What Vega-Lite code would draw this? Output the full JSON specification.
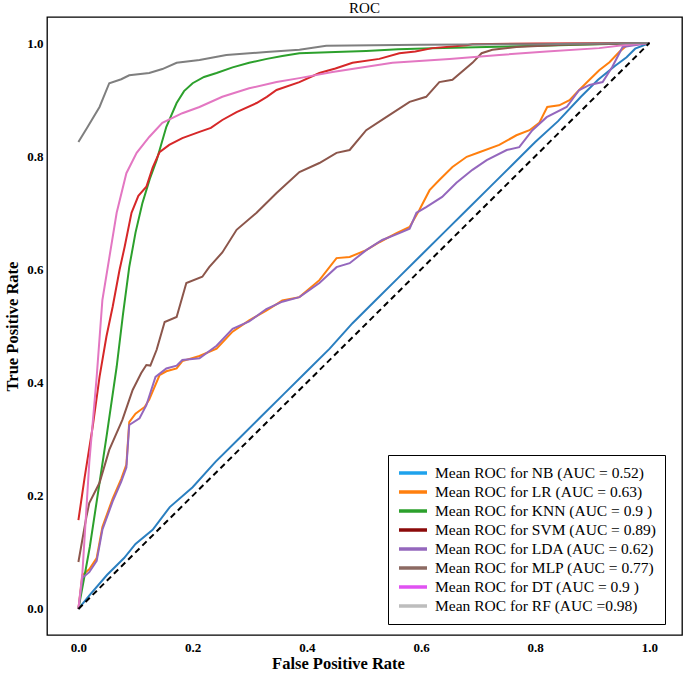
{
  "$schema": "https://vega.github.io/schema/vega-lite/v6.json",
  "width": 635,
  "height": 618,
  "autosize": {"type": "none"},
  "padding": {"left": 47, "top": 17, "right": 3, "bottom": 38},
  "background": "white",
  "title": {"text": "ROC", "font": "Liberation Serif", "fontSize": 15, "fontWeight": "normal", "color": "black", "offset": 1},
  "config": {
    "view": {"stroke": "black", "strokeWidth": 1.3},
    "axis": {
      "domain": false, "grid": false, "ticks": false,
      "labelFont": "Liberation Serif", "labelFontSize": 13, "labelFontWeight": "bold", "labelColor": "black",
      "titleFont": "Liberation Serif", "titleFontSize": 16.5, "titleFontWeight": "bold", "titleColor": "black"
    }
  },
  "datasets": {
    "roc": [
      {"m": "Mean ROC for NB (AUC = 0.52)", "x": 0, "y": 0},
      {"m": "Mean ROC for NB (AUC = 0.52)", "x": 0.02, "y": 0.025},
      {"m": "Mean ROC for NB (AUC = 0.52)", "x": 0.05, "y": 0.06},
      {"m": "Mean ROC for NB (AUC = 0.52)", "x": 0.08, "y": 0.09},
      {"m": "Mean ROC for NB (AUC = 0.52)", "x": 0.1, "y": 0.115},
      {"m": "Mean ROC for NB (AUC = 0.52)", "x": 0.13, "y": 0.14},
      {"m": "Mean ROC for NB (AUC = 0.52)", "x": 0.16, "y": 0.18},
      {"m": "Mean ROC for NB (AUC = 0.52)", "x": 0.2, "y": 0.215},
      {"m": "Mean ROC for NB (AUC = 0.52)", "x": 0.24, "y": 0.26},
      {"m": "Mean ROC for NB (AUC = 0.52)", "x": 0.28, "y": 0.3},
      {"m": "Mean ROC for NB (AUC = 0.52)", "x": 0.32, "y": 0.34},
      {"m": "Mean ROC for NB (AUC = 0.52)", "x": 0.36, "y": 0.38},
      {"m": "Mean ROC for NB (AUC = 0.52)", "x": 0.4, "y": 0.42},
      {"m": "Mean ROC for NB (AUC = 0.52)", "x": 0.44, "y": 0.46},
      {"m": "Mean ROC for NB (AUC = 0.52)", "x": 0.48, "y": 0.505},
      {"m": "Mean ROC for NB (AUC = 0.52)", "x": 0.52, "y": 0.545},
      {"m": "Mean ROC for NB (AUC = 0.52)", "x": 0.56, "y": 0.585},
      {"m": "Mean ROC for NB (AUC = 0.52)", "x": 0.6, "y": 0.625},
      {"m": "Mean ROC for NB (AUC = 0.52)", "x": 0.64, "y": 0.665},
      {"m": "Mean ROC for NB (AUC = 0.52)", "x": 0.68, "y": 0.705},
      {"m": "Mean ROC for NB (AUC = 0.52)", "x": 0.72, "y": 0.745},
      {"m": "Mean ROC for NB (AUC = 0.52)", "x": 0.76, "y": 0.785},
      {"m": "Mean ROC for NB (AUC = 0.52)", "x": 0.8, "y": 0.825},
      {"m": "Mean ROC for NB (AUC = 0.52)", "x": 0.84, "y": 0.862},
      {"m": "Mean ROC for NB (AUC = 0.52)", "x": 0.88, "y": 0.905},
      {"m": "Mean ROC for NB (AUC = 0.52)", "x": 0.91, "y": 0.935},
      {"m": "Mean ROC for NB (AUC = 0.52)", "x": 0.94, "y": 0.96},
      {"m": "Mean ROC for NB (AUC = 0.52)", "x": 0.96, "y": 0.975},
      {"m": "Mean ROC for NB (AUC = 0.52)", "x": 0.975, "y": 0.99},
      {"m": "Mean ROC for NB (AUC = 0.52)", "x": 1, "y": 1},

      {"m": "Mean ROC for LR (AUC = 0.63)", "x": 0, "y": 0},
      {"m": "Mean ROC for LR (AUC = 0.63)", "x": 0.007, "y": 0.06},
      {"m": "Mean ROC for LR (AUC = 0.63)", "x": 0.019, "y": 0.07},
      {"m": "Mean ROC for LR (AUC = 0.63)", "x": 0.032, "y": 0.09},
      {"m": "Mean ROC for LR (AUC = 0.63)", "x": 0.042, "y": 0.145},
      {"m": "Mean ROC for LR (AUC = 0.63)", "x": 0.06, "y": 0.195},
      {"m": "Mean ROC for LR (AUC = 0.63)", "x": 0.075, "y": 0.23},
      {"m": "Mean ROC for LR (AUC = 0.63)", "x": 0.084, "y": 0.255},
      {"m": "Mean ROC for LR (AUC = 0.63)", "x": 0.089, "y": 0.33},
      {"m": "Mean ROC for LR (AUC = 0.63)", "x": 0.1, "y": 0.345},
      {"m": "Mean ROC for LR (AUC = 0.63)", "x": 0.116, "y": 0.357},
      {"m": "Mean ROC for LR (AUC = 0.63)", "x": 0.124, "y": 0.37},
      {"m": "Mean ROC for LR (AUC = 0.63)", "x": 0.142, "y": 0.413},
      {"m": "Mean ROC for LR (AUC = 0.63)", "x": 0.154, "y": 0.42},
      {"m": "Mean ROC for LR (AUC = 0.63)", "x": 0.172, "y": 0.425},
      {"m": "Mean ROC for LR (AUC = 0.63)", "x": 0.182, "y": 0.438},
      {"m": "Mean ROC for LR (AUC = 0.63)", "x": 0.212, "y": 0.447},
      {"m": "Mean ROC for LR (AUC = 0.63)", "x": 0.242, "y": 0.46},
      {"m": "Mean ROC for LR (AUC = 0.63)", "x": 0.27, "y": 0.49},
      {"m": "Mean ROC for LR (AUC = 0.63)", "x": 0.299, "y": 0.51},
      {"m": "Mean ROC for LR (AUC = 0.63)", "x": 0.329, "y": 0.527},
      {"m": "Mean ROC for LR (AUC = 0.63)", "x": 0.357, "y": 0.545},
      {"m": "Mean ROC for LR (AUC = 0.63)", "x": 0.387, "y": 0.551},
      {"m": "Mean ROC for LR (AUC = 0.63)", "x": 0.422, "y": 0.581},
      {"m": "Mean ROC for LR (AUC = 0.63)", "x": 0.452, "y": 0.62},
      {"m": "Mean ROC for LR (AUC = 0.63)", "x": 0.475, "y": 0.622},
      {"m": "Mean ROC for LR (AUC = 0.63)", "x": 0.504, "y": 0.634},
      {"m": "Mean ROC for LR (AUC = 0.63)", "x": 0.527, "y": 0.648},
      {"m": "Mean ROC for LR (AUC = 0.63)", "x": 0.557, "y": 0.664},
      {"m": "Mean ROC for LR (AUC = 0.63)", "x": 0.58, "y": 0.675},
      {"m": "Mean ROC for LR (AUC = 0.63)", "x": 0.597, "y": 0.705},
      {"m": "Mean ROC for LR (AUC = 0.63)", "x": 0.615, "y": 0.74},
      {"m": "Mean ROC for LR (AUC = 0.63)", "x": 0.632, "y": 0.758},
      {"m": "Mean ROC for LR (AUC = 0.63)", "x": 0.655, "y": 0.781},
      {"m": "Mean ROC for LR (AUC = 0.63)", "x": 0.68, "y": 0.799},
      {"m": "Mean ROC for LR (AUC = 0.63)", "x": 0.702, "y": 0.807},
      {"m": "Mean ROC for LR (AUC = 0.63)", "x": 0.737, "y": 0.82},
      {"m": "Mean ROC for LR (AUC = 0.63)", "x": 0.767, "y": 0.837},
      {"m": "Mean ROC for LR (AUC = 0.63)", "x": 0.79, "y": 0.846},
      {"m": "Mean ROC for LR (AUC = 0.63)", "x": 0.807, "y": 0.859},
      {"m": "Mean ROC for LR (AUC = 0.63)", "x": 0.821, "y": 0.887},
      {"m": "Mean ROC for LR (AUC = 0.63)", "x": 0.842, "y": 0.89},
      {"m": "Mean ROC for LR (AUC = 0.63)", "x": 0.86, "y": 0.899},
      {"m": "Mean ROC for LR (AUC = 0.63)", "x": 0.877, "y": 0.917},
      {"m": "Mean ROC for LR (AUC = 0.63)", "x": 0.895, "y": 0.935},
      {"m": "Mean ROC for LR (AUC = 0.63)", "x": 0.912, "y": 0.952},
      {"m": "Mean ROC for LR (AUC = 0.63)", "x": 0.93, "y": 0.966},
      {"m": "Mean ROC for LR (AUC = 0.63)", "x": 0.947, "y": 0.984},
      {"m": "Mean ROC for LR (AUC = 0.63)", "x": 0.961, "y": 0.996},
      {"m": "Mean ROC for LR (AUC = 0.63)", "x": 1, "y": 1},

      {"m": "Mean ROC for KNN (AUC =  0.9 )", "x": 0, "y": 0},
      {"m": "Mean ROC for KNN (AUC =  0.9 )", "x": 0.011, "y": 0.06},
      {"m": "Mean ROC for KNN (AUC =  0.9 )", "x": 0.02, "y": 0.11},
      {"m": "Mean ROC for KNN (AUC =  0.9 )", "x": 0.037, "y": 0.223},
      {"m": "Mean ROC for KNN (AUC =  0.9 )", "x": 0.05, "y": 0.31},
      {"m": "Mean ROC for KNN (AUC =  0.9 )", "x": 0.067, "y": 0.428},
      {"m": "Mean ROC for KNN (AUC =  0.9 )", "x": 0.078, "y": 0.52},
      {"m": "Mean ROC for KNN (AUC =  0.9 )", "x": 0.089, "y": 0.604},
      {"m": "Mean ROC for KNN (AUC =  0.9 )", "x": 0.1, "y": 0.665},
      {"m": "Mean ROC for KNN (AUC =  0.9 )", "x": 0.112, "y": 0.717},
      {"m": "Mean ROC for KNN (AUC =  0.9 )", "x": 0.125, "y": 0.76},
      {"m": "Mean ROC for KNN (AUC =  0.9 )", "x": 0.137, "y": 0.793},
      {"m": "Mean ROC for KNN (AUC =  0.9 )", "x": 0.154, "y": 0.852},
      {"m": "Mean ROC for KNN (AUC =  0.9 )", "x": 0.172, "y": 0.894},
      {"m": "Mean ROC for KNN (AUC =  0.9 )", "x": 0.185, "y": 0.915},
      {"m": "Mean ROC for KNN (AUC =  0.9 )", "x": 0.2, "y": 0.929},
      {"m": "Mean ROC for KNN (AUC =  0.9 )", "x": 0.22, "y": 0.94},
      {"m": "Mean ROC for KNN (AUC =  0.9 )", "x": 0.242, "y": 0.947},
      {"m": "Mean ROC for KNN (AUC =  0.9 )", "x": 0.27, "y": 0.957},
      {"m": "Mean ROC for KNN (AUC =  0.9 )", "x": 0.299, "y": 0.965},
      {"m": "Mean ROC for KNN (AUC =  0.9 )", "x": 0.33, "y": 0.972},
      {"m": "Mean ROC for KNN (AUC =  0.9 )", "x": 0.357, "y": 0.977},
      {"m": "Mean ROC for KNN (AUC =  0.9 )", "x": 0.387, "y": 0.982},
      {"m": "Mean ROC for KNN (AUC =  0.9 )", "x": 0.45, "y": 0.984},
      {"m": "Mean ROC for KNN (AUC =  0.9 )", "x": 0.504, "y": 0.986},
      {"m": "Mean ROC for KNN (AUC =  0.9 )", "x": 0.56, "y": 0.989},
      {"m": "Mean ROC for KNN (AUC =  0.9 )", "x": 0.62, "y": 0.991},
      {"m": "Mean ROC for KNN (AUC =  0.9 )", "x": 0.715, "y": 0.993},
      {"m": "Mean ROC for KNN (AUC =  0.9 )", "x": 0.842, "y": 0.996},
      {"m": "Mean ROC for KNN (AUC =  0.9 )", "x": 1, "y": 1},

      {"m": "Mean ROC for SVM (AUC = 0.89)", "x": 0, "y": 0.157},
      {"m": "Mean ROC for SVM (AUC = 0.89)", "x": 0.011, "y": 0.233},
      {"m": "Mean ROC for SVM (AUC = 0.89)", "x": 0.025, "y": 0.322},
      {"m": "Mean ROC for SVM (AUC = 0.89)", "x": 0.037, "y": 0.41},
      {"m": "Mean ROC for SVM (AUC = 0.89)", "x": 0.049, "y": 0.481},
      {"m": "Mean ROC for SVM (AUC = 0.89)", "x": 0.06, "y": 0.534},
      {"m": "Mean ROC for SVM (AUC = 0.89)", "x": 0.072, "y": 0.599},
      {"m": "Mean ROC for SVM (AUC = 0.89)", "x": 0.081, "y": 0.64},
      {"m": "Mean ROC for SVM (AUC = 0.89)", "x": 0.093, "y": 0.7},
      {"m": "Mean ROC for SVM (AUC = 0.89)", "x": 0.105, "y": 0.73},
      {"m": "Mean ROC for SVM (AUC = 0.89)", "x": 0.119, "y": 0.746},
      {"m": "Mean ROC for SVM (AUC = 0.89)", "x": 0.13, "y": 0.78},
      {"m": "Mean ROC for SVM (AUC = 0.89)", "x": 0.142, "y": 0.807},
      {"m": "Mean ROC for SVM (AUC = 0.89)", "x": 0.159, "y": 0.82},
      {"m": "Mean ROC for SVM (AUC = 0.89)", "x": 0.182, "y": 0.832},
      {"m": "Mean ROC for SVM (AUC = 0.89)", "x": 0.212, "y": 0.843},
      {"m": "Mean ROC for SVM (AUC = 0.89)", "x": 0.232, "y": 0.85},
      {"m": "Mean ROC for SVM (AUC = 0.89)", "x": 0.252, "y": 0.864},
      {"m": "Mean ROC for SVM (AUC = 0.89)", "x": 0.277, "y": 0.878},
      {"m": "Mean ROC for SVM (AUC = 0.89)", "x": 0.312, "y": 0.894},
      {"m": "Mean ROC for SVM (AUC = 0.89)", "x": 0.33, "y": 0.905},
      {"m": "Mean ROC for SVM (AUC = 0.89)", "x": 0.347, "y": 0.917},
      {"m": "Mean ROC for SVM (AUC = 0.89)", "x": 0.387, "y": 0.931},
      {"m": "Mean ROC for SVM (AUC = 0.89)", "x": 0.422, "y": 0.947},
      {"m": "Mean ROC for SVM (AUC = 0.89)", "x": 0.45, "y": 0.955},
      {"m": "Mean ROC for SVM (AUC = 0.89)", "x": 0.48, "y": 0.965},
      {"m": "Mean ROC for SVM (AUC = 0.89)", "x": 0.527, "y": 0.972},
      {"m": "Mean ROC for SVM (AUC = 0.89)", "x": 0.562, "y": 0.982},
      {"m": "Mean ROC for SVM (AUC = 0.89)", "x": 0.59, "y": 0.985},
      {"m": "Mean ROC for SVM (AUC = 0.89)", "x": 0.62, "y": 0.991},
      {"m": "Mean ROC for SVM (AUC = 0.89)", "x": 0.68, "y": 0.996},
      {"m": "Mean ROC for SVM (AUC = 0.89)", "x": 0.69, "y": 0.998},
      {"m": "Mean ROC for SVM (AUC = 0.89)", "x": 0.8, "y": 0.999},
      {"m": "Mean ROC for SVM (AUC = 0.89)", "x": 1, "y": 1},

      {"m": "Mean ROC for LDA (AUC = 0.62)", "x": 0, "y": 0},
      {"m": "Mean ROC for LDA (AUC = 0.62)", "x": 0.007, "y": 0.055},
      {"m": "Mean ROC for LDA (AUC = 0.62)", "x": 0.019, "y": 0.065},
      {"m": "Mean ROC for LDA (AUC = 0.62)", "x": 0.032, "y": 0.085},
      {"m": "Mean ROC for LDA (AUC = 0.62)", "x": 0.042, "y": 0.14},
      {"m": "Mean ROC for LDA (AUC = 0.62)", "x": 0.06, "y": 0.19},
      {"m": "Mean ROC for LDA (AUC = 0.62)", "x": 0.075, "y": 0.225},
      {"m": "Mean ROC for LDA (AUC = 0.62)", "x": 0.084, "y": 0.25},
      {"m": "Mean ROC for LDA (AUC = 0.62)", "x": 0.089, "y": 0.325},
      {"m": "Mean ROC for LDA (AUC = 0.62)", "x": 0.107, "y": 0.337},
      {"m": "Mean ROC for LDA (AUC = 0.62)", "x": 0.119, "y": 0.36},
      {"m": "Mean ROC for LDA (AUC = 0.62)", "x": 0.135, "y": 0.41},
      {"m": "Mean ROC for LDA (AUC = 0.62)", "x": 0.154, "y": 0.425},
      {"m": "Mean ROC for LDA (AUC = 0.62)", "x": 0.172, "y": 0.43},
      {"m": "Mean ROC for LDA (AUC = 0.62)", "x": 0.182, "y": 0.44},
      {"m": "Mean ROC for LDA (AUC = 0.62)", "x": 0.212, "y": 0.443},
      {"m": "Mean ROC for LDA (AUC = 0.62)", "x": 0.242, "y": 0.465},
      {"m": "Mean ROC for LDA (AUC = 0.62)", "x": 0.27, "y": 0.495},
      {"m": "Mean ROC for LDA (AUC = 0.62)", "x": 0.299, "y": 0.508},
      {"m": "Mean ROC for LDA (AUC = 0.62)", "x": 0.329, "y": 0.53},
      {"m": "Mean ROC for LDA (AUC = 0.62)", "x": 0.357, "y": 0.543},
      {"m": "Mean ROC for LDA (AUC = 0.62)", "x": 0.387, "y": 0.551},
      {"m": "Mean ROC for LDA (AUC = 0.62)", "x": 0.422, "y": 0.576},
      {"m": "Mean ROC for LDA (AUC = 0.62)", "x": 0.452, "y": 0.604},
      {"m": "Mean ROC for LDA (AUC = 0.62)", "x": 0.475, "y": 0.611},
      {"m": "Mean ROC for LDA (AUC = 0.62)", "x": 0.504, "y": 0.634},
      {"m": "Mean ROC for LDA (AUC = 0.62)", "x": 0.532, "y": 0.652},
      {"m": "Mean ROC for LDA (AUC = 0.62)", "x": 0.562, "y": 0.664},
      {"m": "Mean ROC for LDA (AUC = 0.62)", "x": 0.58, "y": 0.672},
      {"m": "Mean ROC for LDA (AUC = 0.62)", "x": 0.592, "y": 0.7},
      {"m": "Mean ROC for LDA (AUC = 0.62)", "x": 0.609, "y": 0.71},
      {"m": "Mean ROC for LDA (AUC = 0.62)", "x": 0.637, "y": 0.728},
      {"m": "Mean ROC for LDA (AUC = 0.62)", "x": 0.662, "y": 0.753},
      {"m": "Mean ROC for LDA (AUC = 0.62)", "x": 0.69, "y": 0.776},
      {"m": "Mean ROC for LDA (AUC = 0.62)", "x": 0.715, "y": 0.793},
      {"m": "Mean ROC for LDA (AUC = 0.62)", "x": 0.75, "y": 0.811},
      {"m": "Mean ROC for LDA (AUC = 0.62)", "x": 0.772, "y": 0.816},
      {"m": "Mean ROC for LDA (AUC = 0.62)", "x": 0.795, "y": 0.846},
      {"m": "Mean ROC for LDA (AUC = 0.62)", "x": 0.82, "y": 0.869},
      {"m": "Mean ROC for LDA (AUC = 0.62)", "x": 0.855, "y": 0.887},
      {"m": "Mean ROC for LDA (AUC = 0.62)", "x": 0.877, "y": 0.917},
      {"m": "Mean ROC for LDA (AUC = 0.62)", "x": 0.895, "y": 0.926},
      {"m": "Mean ROC for LDA (AUC = 0.62)", "x": 0.918, "y": 0.931},
      {"m": "Mean ROC for LDA (AUC = 0.62)", "x": 0.935, "y": 0.958},
      {"m": "Mean ROC for LDA (AUC = 0.62)", "x": 0.953, "y": 0.993},
      {"m": "Mean ROC for LDA (AUC = 0.62)", "x": 1, "y": 1},

      {"m": "Mean ROC for MLP (AUC = 0.77)", "x": 0, "y": 0.083},
      {"m": "Mean ROC for MLP (AUC = 0.77)", "x": 0.014, "y": 0.163},
      {"m": "Mean ROC for MLP (AUC = 0.77)", "x": 0.019, "y": 0.187},
      {"m": "Mean ROC for MLP (AUC = 0.77)", "x": 0.037, "y": 0.223},
      {"m": "Mean ROC for MLP (AUC = 0.77)", "x": 0.054, "y": 0.281},
      {"m": "Mean ROC for MLP (AUC = 0.77)", "x": 0.077, "y": 0.334},
      {"m": "Mean ROC for MLP (AUC = 0.77)", "x": 0.095, "y": 0.387},
      {"m": "Mean ROC for MLP (AUC = 0.77)", "x": 0.11, "y": 0.417},
      {"m": "Mean ROC for MLP (AUC = 0.77)", "x": 0.119, "y": 0.431},
      {"m": "Mean ROC for MLP (AUC = 0.77)", "x": 0.126, "y": 0.43},
      {"m": "Mean ROC for MLP (AUC = 0.77)", "x": 0.137, "y": 0.458},
      {"m": "Mean ROC for MLP (AUC = 0.77)", "x": 0.151, "y": 0.507},
      {"m": "Mean ROC for MLP (AUC = 0.77)", "x": 0.172, "y": 0.516},
      {"m": "Mean ROC for MLP (AUC = 0.77)", "x": 0.189, "y": 0.576},
      {"m": "Mean ROC for MLP (AUC = 0.77)", "x": 0.217, "y": 0.587},
      {"m": "Mean ROC for MLP (AUC = 0.77)", "x": 0.229, "y": 0.604},
      {"m": "Mean ROC for MLP (AUC = 0.77)", "x": 0.252, "y": 0.63},
      {"m": "Mean ROC for MLP (AUC = 0.77)", "x": 0.277, "y": 0.67},
      {"m": "Mean ROC for MLP (AUC = 0.77)", "x": 0.312, "y": 0.7},
      {"m": "Mean ROC for MLP (AUC = 0.77)", "x": 0.347, "y": 0.735},
      {"m": "Mean ROC for MLP (AUC = 0.77)", "x": 0.387, "y": 0.772},
      {"m": "Mean ROC for MLP (AUC = 0.77)", "x": 0.422, "y": 0.788},
      {"m": "Mean ROC for MLP (AUC = 0.77)", "x": 0.452, "y": 0.806},
      {"m": "Mean ROC for MLP (AUC = 0.77)", "x": 0.475, "y": 0.811},
      {"m": "Mean ROC for MLP (AUC = 0.77)", "x": 0.504, "y": 0.846},
      {"m": "Mean ROC for MLP (AUC = 0.77)", "x": 0.539, "y": 0.869},
      {"m": "Mean ROC for MLP (AUC = 0.77)", "x": 0.58, "y": 0.896},
      {"m": "Mean ROC for MLP (AUC = 0.77)", "x": 0.609, "y": 0.905},
      {"m": "Mean ROC for MLP (AUC = 0.77)", "x": 0.632, "y": 0.931},
      {"m": "Mean ROC for MLP (AUC = 0.77)", "x": 0.655, "y": 0.935},
      {"m": "Mean ROC for MLP (AUC = 0.77)", "x": 0.69, "y": 0.965},
      {"m": "Mean ROC for MLP (AUC = 0.77)", "x": 0.706, "y": 0.982},
      {"m": "Mean ROC for MLP (AUC = 0.77)", "x": 0.725, "y": 0.988},
      {"m": "Mean ROC for MLP (AUC = 0.77)", "x": 0.767, "y": 0.993},
      {"m": "Mean ROC for MLP (AUC = 0.77)", "x": 0.85, "y": 0.997},
      {"m": "Mean ROC for MLP (AUC = 0.77)", "x": 1, "y": 1},

      {"m": "Mean ROC for DT (AUC =  0.9 )", "x": 0, "y": 0},
      {"m": "Mean ROC for DT (AUC =  0.9 )", "x": 0.007, "y": 0.064},
      {"m": "Mean ROC for DT (AUC =  0.9 )", "x": 0.019, "y": 0.258},
      {"m": "Mean ROC for DT (AUC =  0.9 )", "x": 0.032, "y": 0.41},
      {"m": "Mean ROC for DT (AUC =  0.9 )", "x": 0.042, "y": 0.546},
      {"m": "Mean ROC for DT (AUC =  0.9 )", "x": 0.054, "y": 0.62},
      {"m": "Mean ROC for DT (AUC =  0.9 )", "x": 0.067, "y": 0.7},
      {"m": "Mean ROC for DT (AUC =  0.9 )", "x": 0.084, "y": 0.77},
      {"m": "Mean ROC for DT (AUC =  0.9 )", "x": 0.102, "y": 0.806},
      {"m": "Mean ROC for DT (AUC =  0.9 )", "x": 0.124, "y": 0.834},
      {"m": "Mean ROC for DT (AUC =  0.9 )", "x": 0.147, "y": 0.859},
      {"m": "Mean ROC for DT (AUC =  0.9 )", "x": 0.182, "y": 0.876},
      {"m": "Mean ROC for DT (AUC =  0.9 )", "x": 0.212, "y": 0.887},
      {"m": "Mean ROC for DT (AUC =  0.9 )", "x": 0.252, "y": 0.905},
      {"m": "Mean ROC for DT (AUC =  0.9 )", "x": 0.299, "y": 0.92},
      {"m": "Mean ROC for DT (AUC =  0.9 )", "x": 0.347, "y": 0.931},
      {"m": "Mean ROC for DT (AUC =  0.9 )", "x": 0.387, "y": 0.938},
      {"m": "Mean ROC for DT (AUC =  0.9 )", "x": 0.445, "y": 0.949},
      {"m": "Mean ROC for DT (AUC =  0.9 )", "x": 0.55, "y": 0.965},
      {"m": "Mean ROC for DT (AUC =  0.9 )", "x": 0.65, "y": 0.972},
      {"m": "Mean ROC for DT (AUC =  0.9 )", "x": 0.737, "y": 0.979},
      {"m": "Mean ROC for DT (AUC =  0.9 )", "x": 0.82, "y": 0.985},
      {"m": "Mean ROC for DT (AUC =  0.9 )", "x": 0.912, "y": 0.991},
      {"m": "Mean ROC for DT (AUC =  0.9 )", "x": 0.953, "y": 0.996},
      {"m": "Mean ROC for DT (AUC =  0.9 )", "x": 1, "y": 1},

      {"m": "Mean ROC for RF (AUC =0.98)", "x": 0, "y": 0.825},
      {"m": "Mean ROC for RF (AUC =0.98)", "x": 0.015, "y": 0.85},
      {"m": "Mean ROC for RF (AUC =0.98)", "x": 0.037, "y": 0.887},
      {"m": "Mean ROC for RF (AUC =0.98)", "x": 0.054, "y": 0.929},
      {"m": "Mean ROC for RF (AUC =0.98)", "x": 0.075, "y": 0.936},
      {"m": "Mean ROC for RF (AUC =0.98)", "x": 0.089, "y": 0.943},
      {"m": "Mean ROC for RF (AUC =0.98)", "x": 0.124, "y": 0.947},
      {"m": "Mean ROC for RF (AUC =0.98)", "x": 0.147, "y": 0.954},
      {"m": "Mean ROC for RF (AUC =0.98)", "x": 0.172, "y": 0.965},
      {"m": "Mean ROC for RF (AUC =0.98)", "x": 0.212, "y": 0.97},
      {"m": "Mean ROC for RF (AUC =0.98)", "x": 0.259, "y": 0.979},
      {"m": "Mean ROC for RF (AUC =0.98)", "x": 0.329, "y": 0.984},
      {"m": "Mean ROC for RF (AUC =0.98)", "x": 0.387, "y": 0.988},
      {"m": "Mean ROC for RF (AUC =0.98)", "x": 0.434, "y": 0.995},
      {"m": "Mean ROC for RF (AUC =0.98)", "x": 0.6, "y": 0.997},
      {"m": "Mean ROC for RF (AUC =0.98)", "x": 0.8, "y": 0.998},
      {"m": "Mean ROC for RF (AUC =0.98)", "x": 1, "y": 1}
    ],
    "diag": [
      {"x": 0, "y": 0},
      {"x": 1, "y": 1}
    ]
  },
  "layer": [
    {
      "data": {"name": "roc"},
      "mark": {"type": "line", "strokeWidth": 2, "clip": true},
      "encoding": {
        "x": {"field": "x", "type": "quantitative", "scale": {"domain": [-0.055, 1.057], "nice": false, "zero": false},
              "axis": {"values": [0, 0.2, 0.4, 0.6, 0.8, 1.0], "format": ".1f", "labelPadding": 6, "title": "False Positive Rate", "titleX": 291, "titlePadding": 1}},
        "y": {"field": "y", "type": "quantitative", "scale": {"domain": [-0.046, 1.046], "nice": false, "zero": false},
              "axis": {"values": [0, 0.2, 0.4, 0.6, 0.8, 1.0], "format": ".1f", "labelPadding": 4, "title": "True Positive Rate", "titlePadding": 6}},
        "color": {"field": "m", "type": "nominal",
                  "scale": {"domain": ["Mean ROC for NB (AUC = 0.52)", "Mean ROC for LR (AUC = 0.63)", "Mean ROC for KNN (AUC =  0.9 )", "Mean ROC for SVM (AUC = 0.89)", "Mean ROC for LDA (AUC = 0.62)", "Mean ROC for MLP (AUC = 0.77)", "Mean ROC for DT (AUC =  0.9 )", "Mean ROC for RF (AUC =0.98)"],
                            "range": ["#2a7fc0", "#ff7f0e", "#2ca02c", "#d62728", "#9467bd", "#8c564b", "#e377c2", "#7f7f7f"]},
                  "legend": null}
      }
    },
    {
      "data": {"name": "diag"},
      "mark": {"type": "line", "color": "black", "strokeWidth": 2, "strokeDash": [6, 4]},
      "encoding": {
        "x": {"field": "x", "type": "quantitative"},
        "y": {"field": "y", "type": "quantitative"}
      }
    },
    {
      "data": {"name": "roc"},
      "mark": {"type": "line", "opacity": 0},
      "encoding": {
        "x": {"field": "x", "type": "quantitative"},
        "y": {"field": "y", "type": "quantitative"},
        "color": {"field": "m", "type": "nominal",
                  "scale": {"domain": ["Mean ROC for NB (AUC = 0.52)", "Mean ROC for LR (AUC = 0.63)", "Mean ROC for KNN (AUC =  0.9 )", "Mean ROC for SVM (AUC = 0.89)", "Mean ROC for LDA (AUC = 0.62)", "Mean ROC for MLP (AUC = 0.77)", "Mean ROC for DT (AUC =  0.9 )", "Mean ROC for RF (AUC =0.98)"],
                            "range": ["#1ea2ec", "#ff7f0e", "#2ca02c", "#8b0a0a", "#9467bd", "#8c6a62", "#e052f2", "#bdbdbd"]},
                  "legend": {"orient": "none", "legendX": 341, "legendY": 438, "title": null,
                             "strokeColor": "black", "fillColor": "white", "padding": 9,
                             "labelFont": "Liberation Serif", "labelFontSize": 15.5, "labelColor": "black", "labelLimit": 400, "labelOffset": 20,
                             "symbolType": "M-1,0H3", "symbolSize": 196, "symbolStrokeWidth": 3.5, "symbolOpacity": 1, "rowPadding": 1}}
      }
    }
  ],
  "resolve": {"scale": {"color": "independent"}}
}
